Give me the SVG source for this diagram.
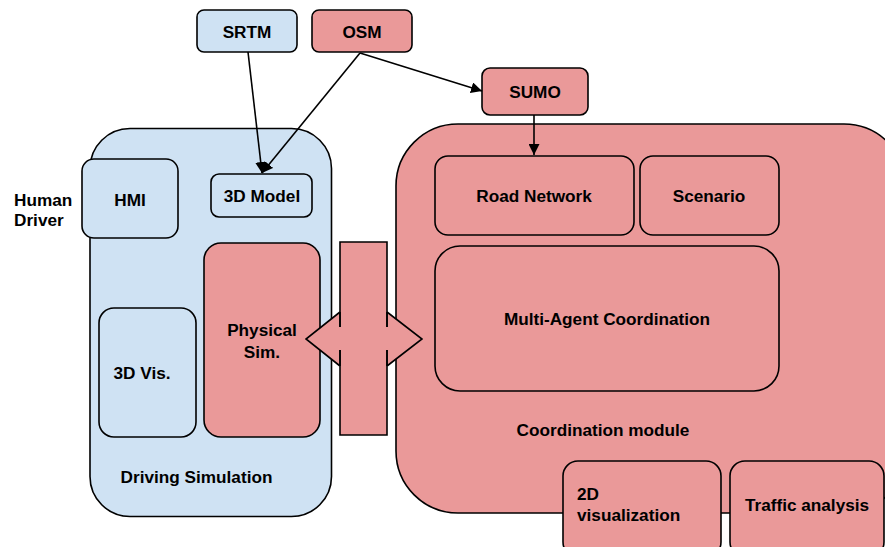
<svg xmlns="http://www.w3.org/2000/svg" width="885" height="547" viewBox="0 0 885 547">
  <defs>
    <marker id="arrow" viewBox="0 0 10 10" refX="10" refY="5" markerWidth="11" markerHeight="11" markerUnits="userSpaceOnUse" orient="auto">
      <path d="M0,0 L10,5 L0,10 Z" fill="#000"/>
    </marker>
    <style>
      .blue { fill: #cfe2f3; stroke: #000; stroke-width: 1.6; }
      .pink { fill: #ea9999; stroke: #000; stroke-width: 1.6; }
      .lbl { font-family: "Liberation Sans", Arial, sans-serif; font-weight: bold; font-size: 17.2px; fill: #000; text-anchor: middle; }
      .left { text-anchor: start; }
      .edge { fill: none; stroke: #000; stroke-width: 1.6; marker-end: url(#arrow); }
    </style>
  </defs>
  <rect width="885" height="547" fill="#fff"/>

  <!-- Actor label -->
  <g id="human-driver">
    <text class="lbl left" x="14" y="206">Human</text>
    <text class="lbl left" x="14" y="226">Driver</text>
  </g>

  <!-- Driving simulation container -->
  <g id="driving-simulation">
    <rect class="blue" x="90" y="128.5" width="241.5" height="388" rx="40"/>
    <text class="lbl" x="196.5" y="483">Driving Simulation</text>
  </g>
  <g id="hmi">
    <rect class="blue" x="82" y="159" width="96" height="79" rx="12"/>
    <text class="lbl" x="130" y="206">HMI</text>
  </g>
  <g id="model-3d">
    <rect class="blue" x="211" y="174" width="101" height="43" rx="8"/>
    <text class="lbl" x="262" y="202">3D Model</text>
  </g>
  <g id="vis-3d">
    <rect class="blue" x="99" y="308" width="97" height="129" rx="15"/>
    <text class="lbl" x="142" y="379">3D Vis.</text>
  </g>
  <g id="physical-sim">
    <rect class="pink" x="204" y="243" width="116" height="194" rx="17"/>
    <text class="lbl" x="262" y="336">Physical</text>
    <text class="lbl" x="262" y="358">Sim.</text>
  </g>

  <!-- Coordination module container -->
  <g id="coordination-module">
    <rect class="pink" x="396" y="124" width="510" height="389" rx="62"/>
    <text class="lbl" x="603" y="436">Coordination module</text>
  </g>
  <g id="road-network">
    <rect class="pink" x="435" y="156" width="199" height="79" rx="13"/>
    <text class="lbl" x="534" y="202">Road Network</text>
  </g>
  <g id="scenario">
    <rect class="pink" x="640" y="156" width="139" height="79" rx="13"/>
    <text class="lbl" x="709" y="202">Scenario</text>
  </g>
  <g id="multi-agent">
    <rect class="pink" x="435" y="246" width="344" height="145" rx="25"/>
    <text class="lbl" x="607" y="325">Multi-Agent Coordination</text>
  </g>
  <g id="vis-2d">
    <rect class="pink" x="563" y="461" width="158" height="96" rx="15"/>
    <text class="lbl left" x="577" y="500">2D</text>
    <text class="lbl left" x="577" y="521">visualization</text>
  </g>
  <g id="traffic-analysis">
    <rect class="pink" x="730" y="461" width="154" height="96" rx="15"/>
    <text class="lbl" x="807" y="511">Traffic analysis</text>
  </g>

  <!-- Data sources -->
  <g id="srtm">
    <rect class="blue" x="197" y="10" width="100" height="42" rx="7"/>
    <text class="lbl" x="247" y="38">SRTM</text>
  </g>
  <g id="osm">
    <rect class="pink" x="312" y="10" width="100" height="42" rx="7"/>
    <text class="lbl" x="362" y="38">OSM</text>
  </g>
  <g id="sumo">
    <rect class="pink" x="482" y="68" width="106" height="47" rx="8"/>
    <text class="lbl" x="535" y="98">SUMO</text>
  </g>

  <!-- Bidirectional link between simulation and coordination -->
  <g id="link">
    <path d="M340,242 H387 V312 L422,339 L387,366 V435 H340 V366 L306,339 L340,312 Z" fill="#ea9999" stroke="none"/>
    <path d="M340,327 V242 H387 V327 M387,350 V435 H340 V350 M340,312 L306,339 L340,366 M387,312 L422,339 L387,366" fill="none" stroke="#000" stroke-width="1.6"/>
    <path d="M340,312 V327 M340,350 V366 M387,312 V327 M387,350 V366" fill="none" stroke="#000" stroke-width="1.6"/>
  </g>

  <!-- Connectors -->
  <g id="connectors">
    <line class="edge" x1="248" y1="52" x2="262" y2="173"/>
    <line class="edge" x1="360" y1="53" x2="262" y2="173"/>
    <line class="edge" x1="360" y1="53" x2="482" y2="91"/>
    <line class="edge" x1="534" y1="115" x2="534" y2="155"/>
  </g>
</svg>
